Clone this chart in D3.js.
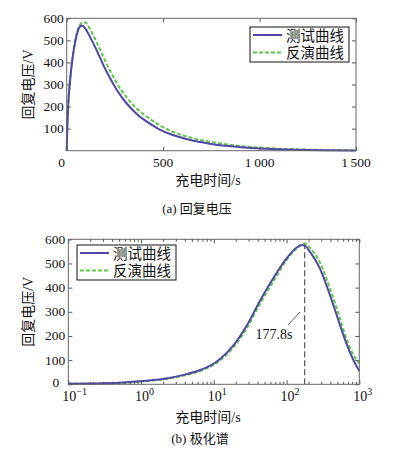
<!DOCTYPE html>
<html>
<head>
<meta charset="utf-8">
<script src="https://cdn.jsdelivr.net/npm/d3@7"></script>
<style>
body { margin: 0; background: #fff; }
text { font-family: "Liberation Serif", "Noto Sans CJK SC", serif; fill: #111; }
.domain { display: none; }
.tick line { stroke: #555; }
</style>
</head>
<body>
<div id="chart"></div>
<script>
var width = 398,
	height = 450;

// (a) recovery voltage, time in s
var timeA = [0, 3, 8, 17, 26, 38, 52, 65, 80, 95, 120, 155, 190, 225, 260, 310, 360, 410, 480, 550, 620, 690, 740, 850, 1000, 1200, 1500];
var testA = [0, 100, 207, 313, 388, 464, 524, 558, 567, 555, 517, 456, 388, 328, 275, 215, 169, 135, 97, 71, 53, 39, 32, 20, 10, 4, 1];
var invA  = [0, 105, 215, 320, 395, 472, 532, 566, 580, 581, 552, 492, 425, 362, 306, 243, 194, 157, 116, 86, 65, 49, 41, 26, 14, 6, 2];
var xTicksA = [0, 500, 1000, 1500];
var yTicksA = [100, 200, 300, 400, 500, 600];

// (b) polarization spectrum
var timeB = [0.1, 0.2, 0.5, 1, 2, 4, 6.5, 10, 12.2, 18.5, 28, 43, 66, 100, 137, 161, 178, 209, 287, 395, 543, 676, 830, 1000];
var testB = [2, 3, 6, 13, 22, 40, 59, 86, 105, 160, 240, 345, 440, 521, 565, 576, 574, 549, 480, 369, 245, 163, 100, 55];
var invB  = [2, 3, 5, 12, 20, 37, 55, 81, 99, 152, 229, 332, 426, 514, 562, 578, 583, 565, 505, 397, 273, 183, 121, 87];
var xTicksB = [0.1, 1, 10, 100, 1000];
var yTicksB = [0, 100, 200, 300, 400, 500, 600];
var peakTime = 177.8;

var legendNames = ["测试曲线", "反演曲线"];
var blue = "#4f47a8",
	green = "#5fc84a";

var svg = d3.select("#chart")
	.append("svg")
	.attr("width", width)
	.attr("height", height);

// frame + inner ticks on all four sides, matlab style
function frame(g, x, y, xVals, yVals, x0, x1, y0, y1) {
	g.append("g").attr("transform", "translate(0," + y0 + ")")
		.call(d3.axisBottom(x).tickValues(xVals).tickSize(-4).tickFormat(""));
	g.append("g").attr("transform", "translate(0," + y1 + ")")
		.call(d3.axisTop(x).tickValues(xVals).tickSize(-4).tickFormat(""));
	g.append("g").attr("transform", "translate(" + x0 + ",0)")
		.call(d3.axisLeft(y).tickValues(yVals).tickSize(-4).tickFormat(""));
	g.append("g").attr("transform", "translate(" + x1 + ",0)")
		.call(d3.axisRight(y).tickValues(yVals).tickSize(-4).tickFormat(""));
	g.append("rect")
		.attr("x", x0).attr("y", y1)
		.attr("width", x1 - x0).attr("height", y0 - y1)
		.attr("fill", "none").attr("stroke", "#666").attr("stroke-width", 1);
}

function legend(g, lx, ly) {
	g.append("rect")
		.attr("x", lx).attr("y", ly)
		.attr("width", 99).attr("height", 35)
		.attr("fill", "#fff").attr("stroke", "#111").attr("stroke-width", 1);
	legendNames.forEach(function(name, k) {
		var cy = ly + 8 + k * 17.5;
		g.append("line")
			.attr("x1", lx + 3).attr("x2", lx + 32)
			.attr("y1", cy).attr("y2", cy)
			.attr("stroke", k == 0 ? blue : green)
			.attr("stroke-width", 2)
			.attr("stroke-dasharray", k == 0 ? null : "4,2");
		g.append("text")
			.attr("x", lx + 36).attr("y", cy + 5.5)
			.attr("font-size", 14.5)
			.text(name);
	});
}

function curves(g, line, times, a, b) {
	g.append("path")
		.datum(times.map(function(t, i) { return [t, b[i]]; }))
		.attr("fill", "none").attr("stroke", green).attr("stroke-width", 2)
		.attr("stroke-dasharray", "4,2")
		.attr("d", line);
	g.append("path")
		.datum(times.map(function(t, i) { return [t, a[i]]; }))
		.attr("fill", "none").attr("stroke", blue).attr("stroke-width", 2)
		.attr("d", line);
}

//----- chart (a)
var ax0 = 66.7, ax1 = 356, ay0 = 150.7, ay1 = 18.3;
var xA = d3.scaleLinear().domain([0, 1500]).range([ax0, ax1]);
var yA = d3.scaleLinear().domain([0, 600]).range([ay0, ay1]);
var gA = svg.append("g");

var lineA = d3.line()
	.x(function(d) { return xA(d[0]); })
	.y(function(d) { return yA(d[1]); })
	.curve(d3.curveMonotoneX);
curves(gA, lineA, timeA, testA, invA);
frame(gA, xA, yA, xTicksA, yTicksA, ax0, ax1, ay0, ay1);

gA.selectAll(".xlabA")
	.data(xTicksA)
	.enter()
	.append("text")
	.attr("x", function(d) { return xA(d) - (d == 0 ? 5 : 0); })
	.attr("y", ay0 + 16)
	.attr("text-anchor", "middle")
	.attr("font-size", 13.5)
	.text(function(d) { return d >= 1000 ? d3.format(",")(d).replace(",", "\u2009") : d; });
gA.selectAll(".ylabA")
	.data(yTicksA)
	.enter()
	.append("text")
	.attr("x", ax0 - 3)
	.attr("y", function(d) { return yA(d) + 4.5; })
	.attr("text-anchor", "end")
	.attr("font-size", 13.5)
	.text(function(d) { return d; });

legend(gA, 250, 27);

gA.append("text")
	.attr("transform", "translate(33," + ((ay0 + ay1) / 2) + ") rotate(-90)")
	.attr("text-anchor", "middle").attr("font-size", 14)
	.text("回复电压/V");
gA.append("text")
	.attr("x", 208).attr("y", 185)
	.attr("text-anchor", "middle").attr("font-size", 14)
	.text("充电时间/s");
gA.append("text")
	.attr("x", 197).attr("y", 213)
	.attr("text-anchor", "middle").attr("font-size", 13)
	.text("(a)  回复电压");

//----- chart (b)
var bx0 = 68.3, bx1 = 359.3, by0 = 384.3, by1 = 239.3;
var xB = d3.scaleLog().domain([0.1, 1000]).range([bx0, bx1]);
var yB = d3.scaleLinear().domain([0, 600]).range([by0, by1]);
var gB = svg.append("g");

var minorB = [];
xTicksB.slice(0, -1).forEach(function(p) {
	for (var m = 2; m < 10; m++) minorB.push(p * m);
});

var lineB = d3.line()
	.x(function(d) { return xB(d[0]); })
	.y(function(d) { return yB(d[1]); })
	.curve(d3.curveMonotoneX);

// peak marker
gB.append("line")
	.attr("x1", xB(peakTime)).attr("x2", xB(peakTime))
	.attr("y1", yB(0)).attr("y2", yB(590))
	.attr("stroke", "#333").attr("stroke-width", 1)
	.attr("stroke-dasharray", "6,3");
curves(gB, lineB, timeB, testB, invB);
frame(gB, xB, yB, xTicksB, yTicksB, bx0, bx1, by0, by1);
gB.append("g").attr("transform", "translate(0," + by0 + ")")
	.call(d3.axisBottom(xB).tickValues(minorB).tickSize(-2.5).tickFormat(""));
gB.append("g").attr("transform", "translate(0," + by1 + ")")
	.call(d3.axisTop(xB).tickValues(minorB).tickSize(-2.5).tickFormat(""));

var xl = gB.selectAll(".xlabB")
	.data(xTicksB)
	.enter()
	.append("text")
	.attr("x", function(d) { return xB(d) - 6; })
	.attr("y", by0 + 17)
	.attr("font-size", 14);
xl.append("tspan").text("10");
xl.append("tspan")
	.attr("dy", -6)
	.attr("font-size", 10)
	.text(function(d) { return Math.round(Math.log10(d)) < 0 ? "\u2212" + 1 : Math.round(Math.log10(d)); });

gB.selectAll(".ylabB")
	.data(yTicksB)
	.enter()
	.append("text")
	.attr("x", function(d) { return bx0 - (d == 0 ? 9 : 3); })
	.attr("y", function(d) { return yB(d) + (d == 0 ? 3 : 4.5); })
	.attr("text-anchor", "end")
	.attr("font-size", 13.5)
	.text(function(d) { return d; });

gB.append("line")
	.attr("x1", 288).attr("y1", 325)
	.attr("x2", 300).attr("y2", 312)
	.attr("stroke", "#333").attr("stroke-width", 0.8);
gB.append("text")
	.attr("x", 274).attr("y", 338.5)
	.attr("text-anchor", "middle").attr("font-size", 14)
	.text(peakTime + "s");

legend(gB, 77, 245);

gB.append("text")
	.attr("transform", "translate(33," + ((by0 + by1) / 2) + ") rotate(-90)")
	.attr("text-anchor", "middle").attr("font-size", 14)
	.text("回复电压/V");
gB.append("text")
	.attr("x", 208).attr("y", 422)
	.attr("text-anchor", "middle").attr("font-size", 14)
	.text("充电时间/s");
gB.append("text")
	.attr("x", 200).attr("y", 443)
	.attr("text-anchor", "middle").attr("font-size", 13)
	.text("(b)  极化谱");
</script>
</body>
</html>
